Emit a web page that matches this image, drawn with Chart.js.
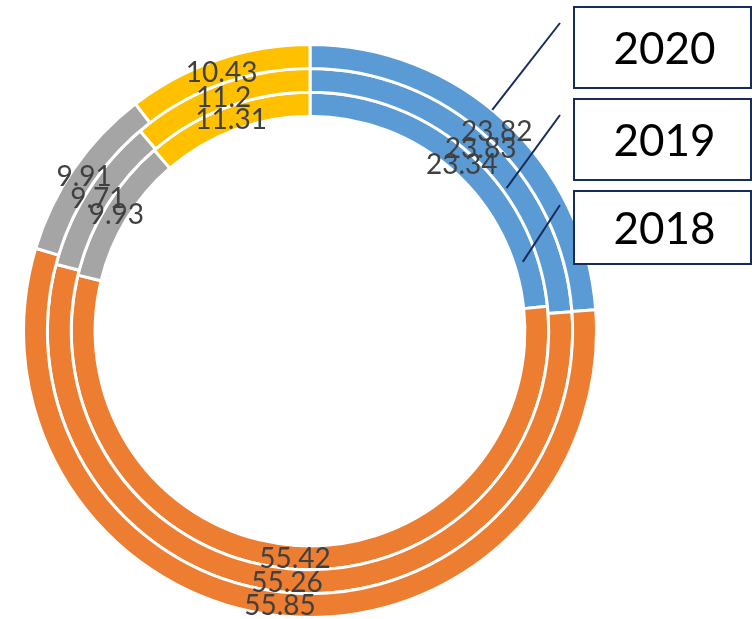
<!DOCTYPE html>
<html>
<head>
<meta charset="utf-8">
<script src="https://cdn.jsdelivr.net/npm/chart.js@4"></script>
<style>
  html, body { margin: 0; padding: 0; background: #fff; }
  #wrap { width: 752px; height: 619px; position: relative; }
</style>
</head>
<body>
<div id="wrap"><canvas id="ringChart"></canvas></div>
<script>
// DATA
const categories = ["Blue", "Orange", "Gray", "Yellow"];
const years = ["2020", "2019", "2018"];          // outer -> inner
const values2020 = [23.82, 55.85, 9.91, 10.43];
const values2019 = [23.83, 55.26, 9.71, 11.2];
const values2018 = [23.34, 55.42, 9.93, 11.31];
const colors = ["#5b9bd5", "#ed7d31", "#a5a5a5", "#ffc000"];

// callout boxes (annotation layout)
const callouts = [
    { text: "2020", box: [574, 7, 177, 81],  from: [560, 23],  angle: 39.5, rFrac: 1.0 },
    { text: "2019", box: [574, 99, 177, 81], from: [560, 115], angle: 54,   rFrac: 0.848 },
    { text: "2018", box: [574, 191, 177, 73], from: [560, 205], angle: 72,  rFrac: 0.781 }
];

// data labels on each arc
const labelPlugin = {
    id: "ringLabels",
    afterDatasetsDraw(chart) {
        const ctx = chart.ctx;
        ctx.save();
        ctx.font = "28px Lato, 'Open Sans', sans-serif";
        ctx.fillStyle = "#404040";
        ctx.textAlign = "center";
        ctx.textBaseline = "middle";
        chart.data.datasets.forEach((ds, i) => {
            const meta = chart.getDatasetMeta(i);
            meta.data.forEach((arc, j) => {
                const p = arc.tooltipPosition();
                ctx.fillText(String(ds.data[j]), p.x, p.y + 2);
            });
        });
        ctx.restore();
    }
};

// year callouts with leader lines
const calloutPlugin = {
    id: "yearCallouts",
    afterDraw(chart) {
        const ctx = chart.ctx;
        const arc0 = chart.getDatasetMeta(0).data[0];
        const cx = arc0.x, cy = arc0.y, R = arc0.outerRadius;
        ctx.save();
        callouts.forEach(c => {
            const a = c.angle * Math.PI / 180;
            const r = R * c.rFrac;
            ctx.strokeStyle = "#162d5c";
            ctx.lineWidth = 2;
            ctx.beginPath();
            ctx.moveTo(c.from[0], c.from[1]);
            ctx.lineTo(cx + r * Math.sin(a), cy - r * Math.cos(a));
            ctx.stroke();

            const [bx, by, bw, bh] = c.box;
            ctx.fillStyle = "#ffffff";
            ctx.fillRect(bx, by, bw, bh);
            ctx.strokeRect(bx, by, bw, bh);

            ctx.fillStyle = "#000000";
            ctx.font = "44px Lato, 'Open Sans', sans-serif";
            ctx.textAlign = "center";
            ctx.textBaseline = "middle";
            ctx.fillText(c.text, bx + bw / 2 + 2, by + bh / 2 + 2);
        });
        ctx.restore();
    }
};

new Chart(document.getElementById("ringChart"), {
    type: "doughnut",
    data: {
        labels: categories,
        datasets: [
            { label: years[0], data: values2020, backgroundColor: colors },
            { label: years[1], data: values2019, backgroundColor: colors },
            { label: years[2], data: values2018, backgroundColor: colors }
        ]
    },
    options: {
        responsive: true,
        maintainAspectRatio: false,
        animation: false,
        cutout: "75%",
        layout: { padding: { left: 22, top: 43, right: 154, bottom: 0 } },
        elements: { arc: { borderColor: "#ffffff", borderWidth: 3 } },
        plugins: {
            legend: { display: false },
            tooltip: { enabled: false }
        },
        events: []
    },
    plugins: [labelPlugin, calloutPlugin]
});
</script>
</body>
</html>
